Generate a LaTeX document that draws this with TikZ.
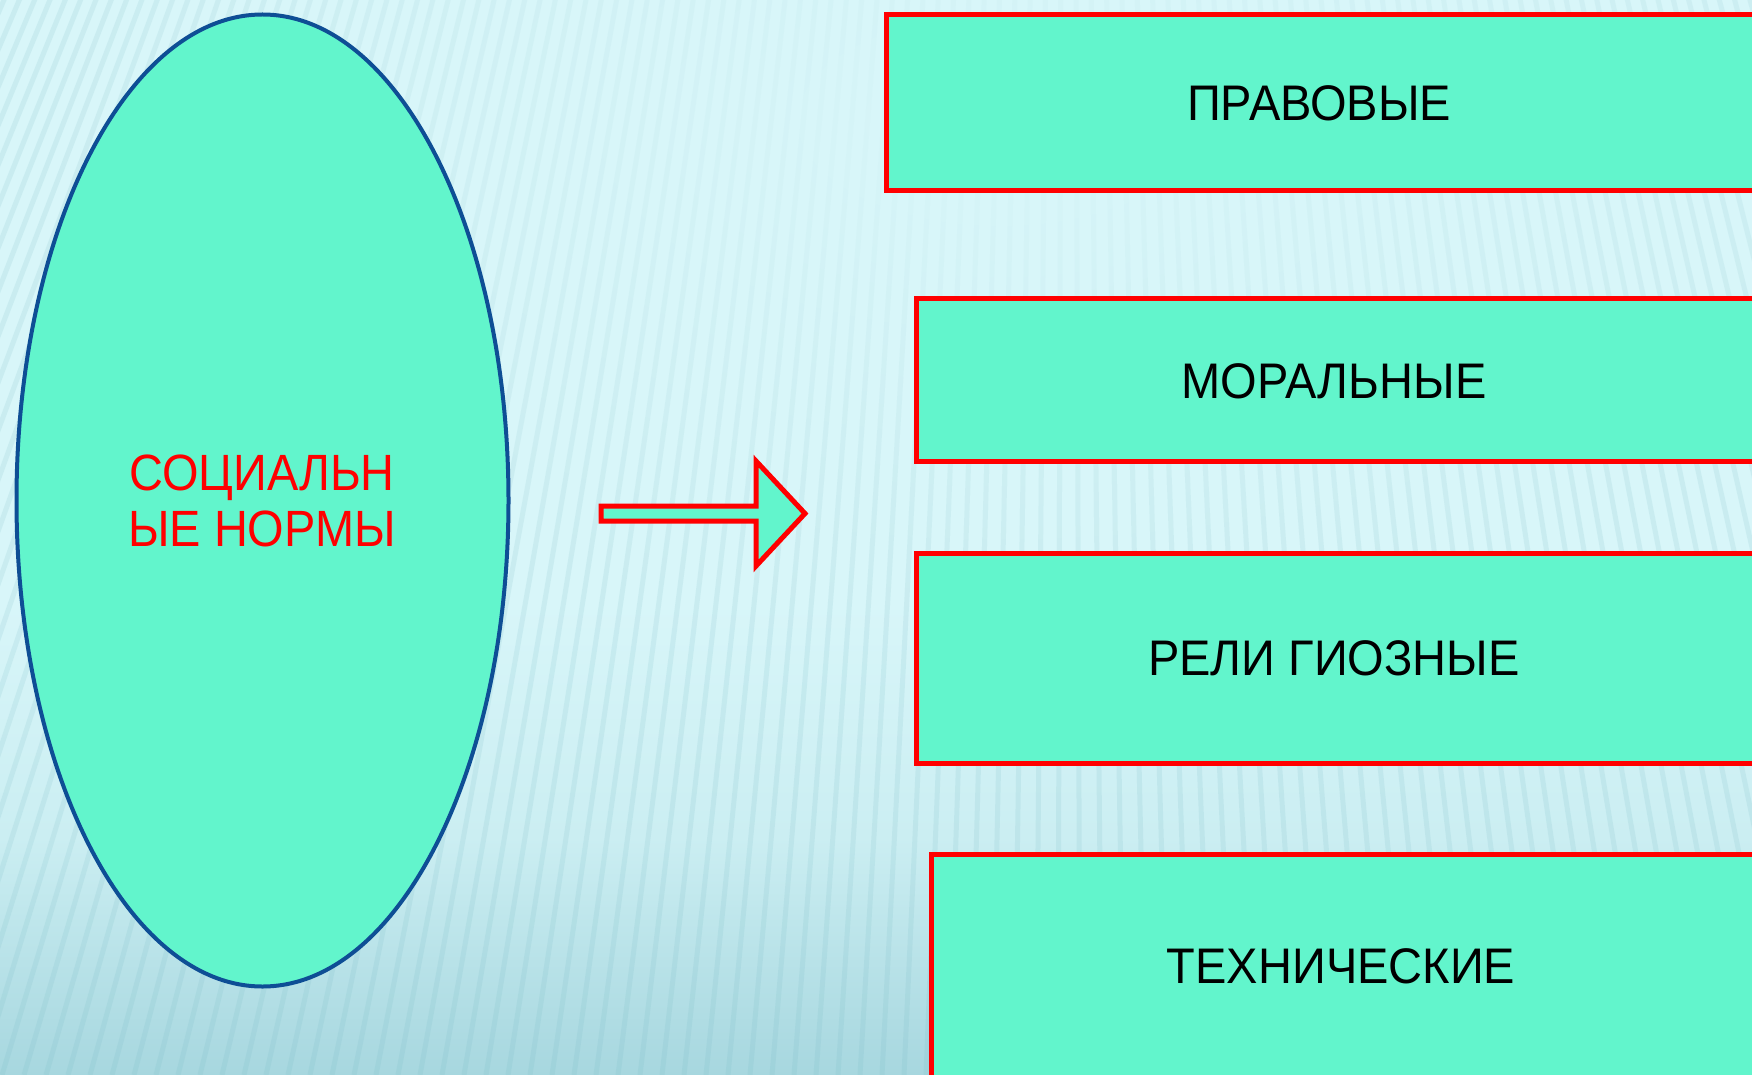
\documentclass[tikz,border=0pt]{standalone}
\usepackage{fontspec}
\setmainfont{Liberation Sans}
\usetikzlibrary{fadings,shapes.geometric}
\definecolor{bgtop}{HTML}{D8F6F9}
\definecolor{bgmid}{HTML}{CBEEF2}
\definecolor{bgbot}{HTML}{A7D7DF}
\definecolor{stripe}{HTML}{6FB5C0}
\definecolor{mint}{HTML}{62F5CC}
\definecolor{eblue}{HTML}{0E4E95}
\definecolor{rred}{HTML}{FF0000}
\tikzfading[name=myglow, inner color=transparent!0, outer color=transparent!100]
\tikzset{
  catbox/.style={draw=rred, line width=5pt, fill=mint},
  cattext/.style={font=\fontsize{50}{53}\selectfont, text=black, xscale=0.94, inner sep=0pt},
  mainshape/.style={ellipse, draw=eblue, line width=4pt, fill=mint, minimum width=492pt, minimum height=972pt, inner sep=0pt},
  maintext/.style={font=\fontsize{51}{56}\selectfont, text=rred, align=center, xscale=0.92, inner sep=0pt},
  blockarrow/.style={draw=rred, line width=5pt, fill=mint, line join=miter}
}
\begin{document}
\begin{tikzpicture}[x=1pt,y=-1pt]
\useasboundingbox (0,0) rectangle (1752,1075);
\clip (0,0) rectangle (1752,1075);
% background
\fill[bgtop] (0,0) rectangle (1752,620);
\shade[top color=bgtop, bottom color=bgbot, middle color=bgmid] (0,600) rectangle (1752,1075);
\foreach \x in {-900,-878,...,2700} {
  \draw[stripe, line width=5pt, opacity=0.14] (1067,-2463) -- (\x,1075);
}
\fill[bgtop, path fading=myglow] (1000,120) ellipse [x radius=1000, y radius=520];
% main ellipse
\node[mainshape] (soc) at (262.5,500.5) {};
\node[maintext] (soctxt) at (262,501) {СОЦИАЛЬН\\ЫЕ НОРМЫ};
% block arrow
\draw[blockarrow] (601,506) -- (756,506) -- (756,461) -- (805,513.5) -- (756,566) -- (756,521) -- (601,521) -- cycle;
% category boxes
\draw[catbox] (886,15) rectangle (1770,191);
\draw[catbox] (916,298) rectangle (1770,461);
\draw[catbox] (916,553) rectangle (1770,763);
\draw[catbox] (931,854) rectangle (1770,1095);
\node[cattext] (prav) at (1319,103) {ПРАВОВЫЕ};
\node[cattext] (moral) at (1334,381) {МОРАЛЬНЫЕ};
\node[cattext] (relig) at (1334,658) {РЕЛИ ГИОЗНЫЕ};
\node[cattext] (tech) at (1341,966) {ТЕХНИЧЕСКИЕ};
\end{tikzpicture}
\end{document}
